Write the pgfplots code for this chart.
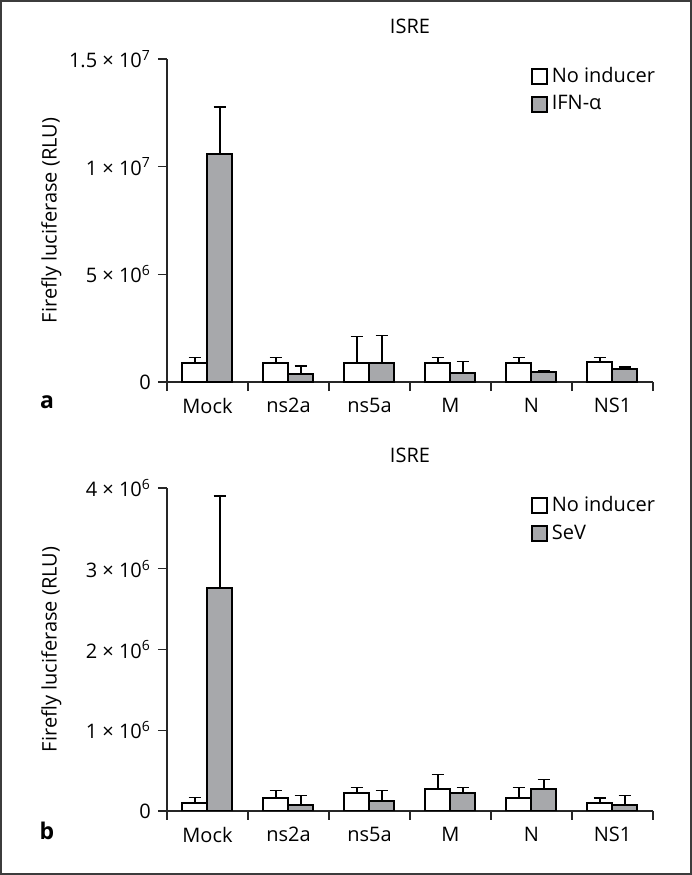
\documentclass[border=0pt]{standalone}
\usepackage{fontspec}
\setmainfont{Open Sans}
\usepackage{pgfplots}
\usepackage{pgfplotstable}
\pgfplotsset{compat=1.18}

\definecolor{barGray}{RGB}{167,168,171}
\definecolor{frameGray}{RGB}{60,60,60}

% panel a: IFN-alpha
\pgfplotstableread{
x  w       we      g        ge
0  870000  260000  10600000 2170000
1  870000  260000  370000   370000
2  870000  1250000 870000   1280000
3  870000  260000  430000   520000
4  870000  260000  450000   60000
5  950000  180000  600000   100000
}\dataA

% panel b: SeV
\pgfplotstableread{
x  w       we      g        ge
0  100000  65000   2760000  1140000
1  165000  85000   75000    120000
2  227000  63000   128000   129000
3  270000  180000  227000   63000
4  160000  130000  276000   114000
5  95000   65000   75000    120000
}\dataB

\pgfplotsset{rsk/.style={
  scale only axis, width=243pt, height=161.5pt,
  ybar=0pt, bar width=12.5pt,
  xmin=-0.5, xmax=5.5, ymin=0,
  axis lines=left, axis line style={-, line width=0.55pt, black!85},
  xtick={0,...,5}, xticklabels={Mock,ns2a,ns5a,M,N,NS1},
  major x tick style={draw=none},
  minor xtick={-0.5,0.5,...,5.5},
  tick align=outside, major tick length=4.5pt, minor tick length=4.5pt,
  tick style={line width=0.55pt, black!85},
  scaled y ticks=false,
  ylabel={Firefly luciferase (RLU)},
  y label style={at={(axis description cs:-0.238,0.5)}, anchor=center},
  title style={at={(axis description cs:0.5,1)}, anchor=base, yshift=7pt},
  legend style={draw=none, fill=none, at={(axis description cs:0.735,1)},
    anchor=north west, row sep=1pt},
  legend cell align=left,
  legend image code/.code={\draw[#1] (0pt,-3.8pt) rectangle (7.6pt,3.8pt);},
  error bars/y dir=plus, error bars/y explicit,
  error bars/error bar style={line width=0.6pt, black},
  error bars/error mark options={rotate=90, mark size=3.2pt, line width=0.6pt, black},
}}

\begin{document}
\fontsize{10}{12}\selectfont
\begin{tikzpicture}
\draw[line width=1.2pt, frameGray] (0.6pt,0.6pt) rectangle (345.4pt,436.9pt);

\begin{axis}[rsk, at={(83.5pt,246.5pt)}, title={ISRE},
  ymax=15000000, ytick={0,5000000,10000000,15000000},
  yticklabels={0,5 × 10\textsuperscript{6},1 × 10\textsuperscript{7},1.5 × 10\textsuperscript{7}}]
\addplot[fill=white, draw=black, line width=1pt] table[x=x, y=w, y error=we] {\dataA};
\addplot[fill=barGray, draw=black, line width=1pt] table[x=x, y=g, y error=ge] {\dataA};
\legend{No inducer, IFN-α}
\end{axis}

\begin{axis}[rsk, at={(83.5pt,32pt)}, title={ISRE},
  ymax=4000000, ytick={0,1000000,2000000,3000000,4000000},
  yticklabels={0,1 × 10\textsuperscript{6},2 × 10\textsuperscript{6},3 × 10\textsuperscript{6},4 × 10\textsuperscript{6}}]
\addplot[fill=white, draw=black, line width=1pt] table[x=x, y=w, y error=we] {\dataB};
\addplot[fill=barGray, draw=black, line width=1pt] table[x=x, y=g, y error=ge] {\dataB};
\legend{No inducer, SeV}
\end{axis}

\node[font=\fontsize{11.5}{13}\selectfont\bfseries] at (23.5pt,236.5pt) {a};
\node[font=\fontsize{11.5}{13}\selectfont\bfseries] at (23.5pt,22pt) {b};
\end{tikzpicture}
\end{document}
